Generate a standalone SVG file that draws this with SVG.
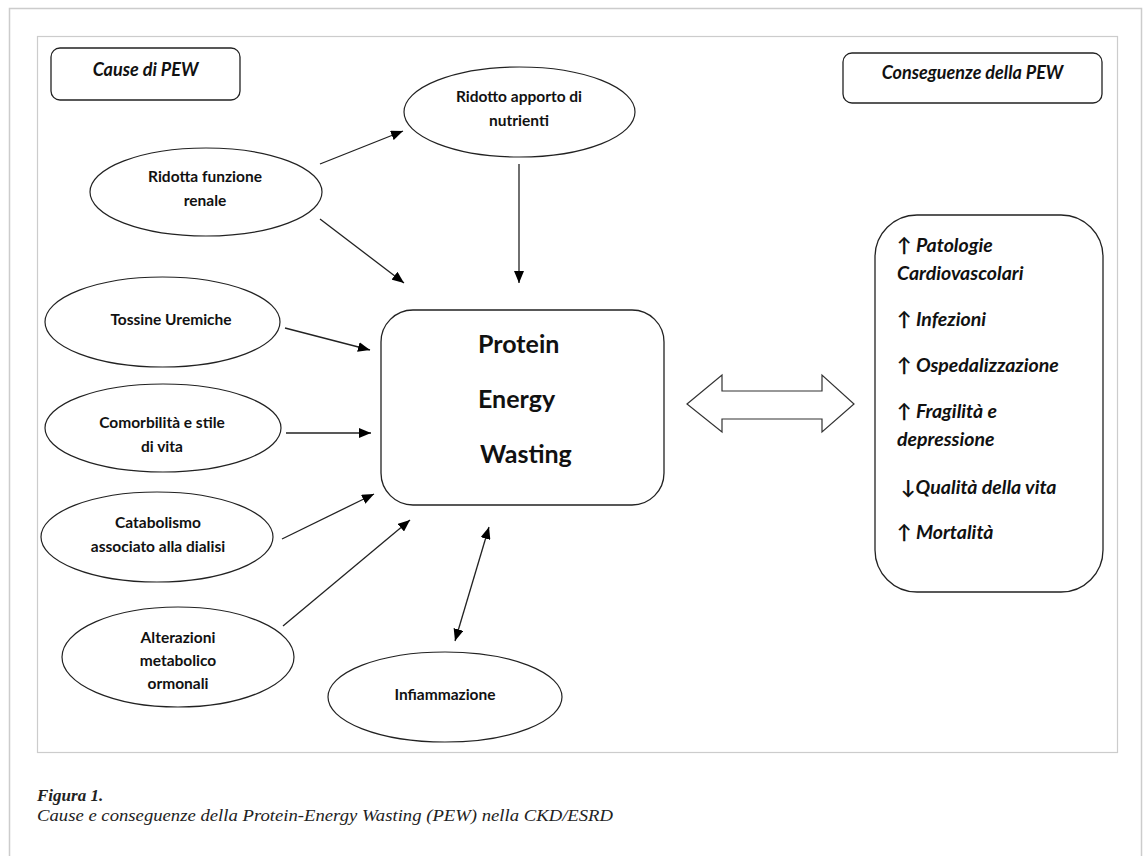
<svg xmlns="http://www.w3.org/2000/svg" width="1148" height="856" viewBox="0 0 1148 856">
<defs>
<marker id="ah" viewBox="0 0 12 10" refX="12" refY="5" markerWidth="12" markerHeight="10" markerUnits="userSpaceOnUse" orient="auto-start-reverse">
<path d="M0,0 L12,5 L0,10 z" fill="#000"/>
</marker>
<style>
.el{fill:#fff;stroke:#222;stroke-width:1.2}
.bx{fill:#fff;stroke:#222;stroke-width:1.3}
.t{font-family:Lato,"Open Sans",sans-serif;font-weight:700;font-size:15.5px;fill:#111;text-anchor:middle}
.ti{font-family:Lato,"Open Sans",sans-serif;font-weight:700;font-style:italic;font-size:18px;fill:#111}
.r{font-size:19.5px}
.big{font-family:Lato,"Open Sans",sans-serif;font-weight:700;font-size:25px;fill:#111}
.c{stroke:#222;stroke-width:1.3;fill:none;marker-end:url(#ah)}
.cap{font-family:"Liberation Serif",serif;font-style:italic;font-size:17px;fill:#222}
</style>
</defs>
<rect x="0" y="0" width="1148" height="856" fill="#fff"/>
<rect x="9.5" y="8.5" width="1132" height="860" fill="none" stroke="#ccc" stroke-width="1.5"/>
<rect x="37.5" y="36.5" width="1080" height="716" fill="none" stroke="#ccc" stroke-width="1.2"/>

<g id="cause-title">
<rect class="bx" x="51" y="48" width="189" height="52" rx="9"/>
<text class="ti" x="145.5" y="76" text-anchor="middle">Cause di PEW</text>
</g>
<g id="conseguenze-title">
<rect class="bx" x="843" y="53" width="259" height="50" rx="9"/>
<text class="ti" x="972.5" y="79" text-anchor="middle">Conseguenze della PEW</text>
</g>

<g id="ridotto-apporto">
<ellipse class="el" cx="519.5" cy="112" rx="115.5" ry="45"/>
<text class="t" x="519" y="102">Ridotto apporto di</text>
<text class="t" x="519" y="126">nutrienti</text>
</g>
<g id="ridotta-funzione">
<ellipse class="el" cx="206" cy="192" rx="116" ry="44"/>
<text class="t" x="205" y="182">Ridotta funzione</text>
<text class="t" x="205" y="206">renale</text>
</g>
<g id="tossine">
<ellipse class="el" cx="162.5" cy="322" rx="117.5" ry="45"/>
<text class="t" x="171" y="325">Tossine Uremiche</text>
</g>
<g id="comorbilita">
<ellipse class="el" cx="163" cy="428" rx="118" ry="44"/>
<text class="t" x="162" y="428">Comorbilità e stile</text>
<text class="t" x="162" y="452">di vita</text>
</g>
<g id="catabolismo">
<ellipse class="el" cx="157" cy="537" rx="116" ry="45"/>
<text class="t" x="158" y="528">Catabolismo</text>
<text class="t" x="158" y="552">associato alla dialisi</text>
</g>
<g id="alterazioni">
<ellipse class="el" cx="178" cy="657" rx="116" ry="50"/>
<text class="t" x="178" y="643">Alterazioni</text>
<text class="t" x="178" y="666">metabolico</text>
<text class="t" x="178" y="689">ormonali</text>
</g>
<g id="infiammazione">
<ellipse class="el" cx="445" cy="697" rx="117" ry="45"/>
<text class="t" x="445" y="700">Infiammazione</text>
</g>

<g id="pew">
<rect class="bx" x="381" y="310" width="283" height="195" rx="32"/>
<text class="big" x="478" y="353">Protein</text>
<text class="big" x="478" y="408">Energy</text>
<text class="big" x="480" y="463">Wasting</text>
</g>

<g id="conseguenze">
<rect class="bx" x="875" y="215" width="228" height="377" rx="42"/>
<text class="ti r" x="897" y="252">↑ Patologie</text>
<text class="ti r" x="897" y="280">Cardiovascolari</text>
<text class="ti r" x="897" y="326">↑ Infezioni</text>
<text class="ti r" x="897" y="372">↑ Ospedalizzazione</text>
<text class="ti r" x="897" y="418">↑ Fragilità e</text>
<text class="ti r" x="897" y="446">depressione</text>
<text class="ti r" x="901" y="494">↓Qualità della vita</text>
<text class="ti r" x="897" y="539">↑ Mortalità</text>
</g>

<g id="connectors">
<line class="c" x1="320" y1="164" x2="403" y2="131"/>
<line class="c" x1="320" y1="219" x2="404" y2="283"/>
<line class="c" x1="519" y1="164" x2="519" y2="283"/>
<line class="c" x1="285" y1="328" x2="370" y2="350"/>
<line class="c" x1="286" y1="433" x2="371" y2="433"/>
<line class="c" x1="282" y1="539" x2="374" y2="494"/>
<line class="c" x1="283" y1="626" x2="410" y2="520"/>
<line class="c" x1="455" y1="641" x2="489" y2="527" style="marker-start:url(#ah)"/>
<path d="M687,404 L722,375 L722,391 L822,391 L822,375 L854,404 L822,432 L822,419 L722,419 L722,432 Z" fill="#fff" stroke="#333" stroke-width="1.2" stroke-linejoin="miter"/>
</g>

<g id="caption">
<text class="cap" x="37" y="801" font-weight="700" font-size="18">Figura 1.</text>
<text class="cap" x="37" y="821" textLength="576" lengthAdjust="spacingAndGlyphs">Cause e conseguenze della Protein-Energy Wasting (PEW) nella CKD/ESRD</text>
</g>
</svg>
